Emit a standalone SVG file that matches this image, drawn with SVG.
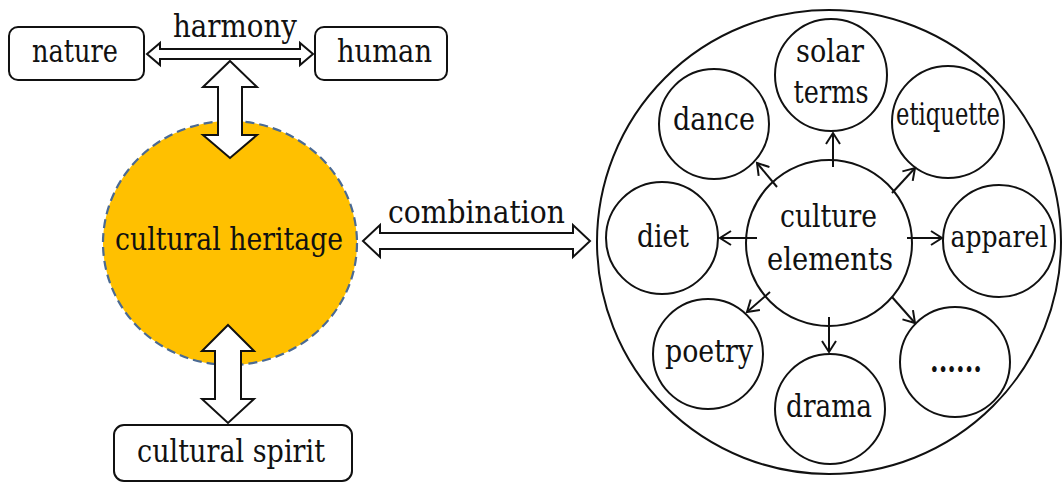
<svg xmlns="http://www.w3.org/2000/svg" width="1064" height="483" viewBox="0 0 1064 483">
  <style>
    text { font-family: 'DejaVu Serif', 'Liberation Serif', serif; font-size: 32px; fill: #111; text-anchor: middle; }
    .box { fill: #fff; stroke: #111; stroke-width: 2; }
    .node { fill: #fff; stroke: #111; stroke-width: 2; }
    .dbl { fill: #fff; stroke: #111; stroke-width: 2; stroke-linejoin: miter; }
    .link { stroke: #111; stroke-width: 2; fill: none; marker-end: url(#open); }
  </style>
  <defs>
    <marker id="open" markerUnits="userSpaceOnUse" markerWidth="16" markerHeight="16" refX="13" refY="8" orient="auto">
      <path d="M2,1 L13,8 L2,15" fill="none" stroke="#111" stroke-width="2"/>
    </marker>
  </defs>

  <rect width="1064" height="483" fill="#fff"/>

  <!-- central heritage disc -->
  <g id="heritage">
    <ellipse cx="230" cy="243" rx="127" ry="122" fill="#FFC000" stroke="#4A6A94" stroke-width="2.2" stroke-dasharray="9,5"/>
    <text x="229" y="250" textLength="228" lengthAdjust="spacingAndGlyphs">cultural heritage</text>
  </g>

  <g id="nature">
    <rect class="box" x="9" y="27" width="135" height="53" rx="9"/>
    <text x="75" y="62" textLength="86" lengthAdjust="spacingAndGlyphs">nature</text>
  </g>
  <g id="human">
    <rect class="box" x="315" y="27" width="132" height="53" rx="9"/>
    <text x="384.5" y="62" textLength="95" lengthAdjust="spacingAndGlyphs">human</text>
  </g>
  <g id="cultural-spirit">
    <rect class="box" x="114" y="425" width="238" height="56" rx="10"/>
    <text x="231" y="462" textLength="188" lengthAdjust="spacingAndGlyphs">cultural spirit</text>
  </g>

  <!-- element wheel -->
  <g id="wheel">
    <circle class="node" cx="829" cy="242" r="232"/>
  </g>
  <g id="culture-elements">
    <circle class="node" cx="829" cy="243" r="83"/>
    <text x="828.5" y="227" textLength="97" lengthAdjust="spacingAndGlyphs">culture</text>
    <text x="830" y="270" textLength="126" lengthAdjust="spacingAndGlyphs">elements</text>
  </g>
  <g id="solar-terms">
    <circle class="node" cx="831" cy="75" r="56"/>
    <text x="830" y="62" textLength="68" lengthAdjust="spacingAndGlyphs">solar</text>
    <text x="831" y="103" textLength="75" lengthAdjust="spacingAndGlyphs">terms</text>
  </g>
  <g id="dance">
    <circle class="node" cx="714" cy="124" r="55"/>
    <text x="714" y="130" textLength="82" lengthAdjust="spacingAndGlyphs">dance</text>
  </g>
  <g id="etiquette">
    <circle class="node" cx="948" cy="122" r="56"/>
    <text x="948" y="125" textLength="104" lengthAdjust="spacingAndGlyphs">etiquette</text>
  </g>
  <g id="diet">
    <circle class="node" cx="662" cy="238" r="56"/>
    <text x="663" y="247" textLength="52" lengthAdjust="spacingAndGlyphs">diet</text>
  </g>
  <g id="apparel">
    <circle class="node" cx="999" cy="241" r="56"/>
    <text x="999" y="247" style="font-size:30px" textLength="97" lengthAdjust="spacingAndGlyphs">apparel</text>
  </g>
  <g id="poetry">
    <circle class="node" cx="708" cy="354" r="55"/>
    <text x="709" y="362" textLength="88" lengthAdjust="spacingAndGlyphs">poetry</text>
  </g>
  <g id="drama">
    <circle class="node" cx="830" cy="409" r="55"/>
    <text x="829" y="417" textLength="86" lengthAdjust="spacingAndGlyphs">drama</text>
  </g>
  <g id="more">
    <circle class="node" cx="955" cy="362" r="55"/>
    <text x="956" y="372" style="font-weight:bold" textLength="52" lengthAdjust="spacingAndGlyphs">......</text>
  </g>

  <g id="connectors">
    <!-- double block arrows -->
    <polygon class="dbl" points="147,54 160,43 160,49 300,49 300,43 313,54 300,65 300,59 160,59 160,65"/>
    <polygon class="dbl" points="363,241 380,225 380,233 573,233 573,225 590,241 573,257 573,249 380,249 380,257"/>
    <polygon class="dbl" points="230,61 257,87 242,87 242,135 257,135 230,158 203,135 218,135 218,87 203,87"/>
    <polygon class="dbl" points="228,325 254,351 241,351 241,399 254,399 228,423 202,399 215,399 215,351 202,351"/>
    <!-- radial links -->
    <line class="link" x1="833" y1="167" x2="833" y2="133"/>
    <line class="link" x1="777" y1="187" x2="757" y2="163"/>
    <line class="link" x1="892" y1="193" x2="915" y2="168"/>
    <line class="link" x1="757" y1="238" x2="720" y2="238"/>
    <line class="link" x1="907" y1="238" x2="942" y2="238"/>
    <line class="link" x1="770" y1="292" x2="747" y2="312"/>
    <line class="link" x1="829" y1="317" x2="829" y2="352"/>
    <line class="link" x1="892" y1="297" x2="915" y2="323"/>
  </g>

  <text x="235" y="37" textLength="124" lengthAdjust="spacingAndGlyphs">harmony</text>
  <text x="476.5" y="223" textLength="177" lengthAdjust="spacingAndGlyphs">combination</text>
</svg>
